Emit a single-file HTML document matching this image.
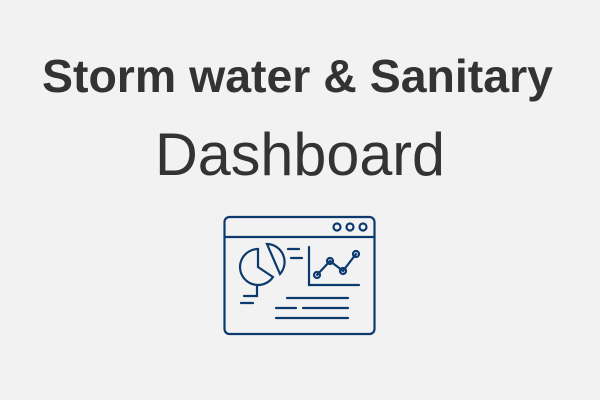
<!DOCTYPE html>
<html><head><meta charset="utf-8"><style>
html,body{margin:0;padding:0;background:#f2f2f2;}
svg{display:block;}
</style></head><body>
<svg width="600" height="400" viewBox="0 0 600 400">
<rect width="600" height="400" fill="#f2f2f2"/>
<text x="42" y="92" font-family="Liberation Sans, sans-serif" font-weight="bold" font-size="46" fill="#333" textLength="511" lengthAdjust="spacingAndGlyphs">Storm water &amp; Sanitary</text>
<text x="155" y="175" font-family="Liberation Sans, sans-serif" font-size="60" fill="#333" textLength="290" lengthAdjust="spacingAndGlyphs">Dashboard</text>
<g fill="none" stroke="#0d3a6e" stroke-width="2.2" stroke-linecap="round">
<rect x="224.5" y="217" width="150" height="117" rx="5"/>
<line x1="224.5" y1="237" x2="374.5" y2="237"/>
<circle cx="337" cy="227" r="3.5"/><circle cx="350" cy="227" r="3.5"/><circle cx="363" cy="227" r="3.5"/>
<path d="M258 249 A18 18 0 1 0 273 277 L258 267 Z"/>
<path d="M267 244 A18 18 0 0 1 280 274 Z"/>
<path d="M257 285 L257 296 L244 296"/>
<line x1="241" y1="303" x2="253" y2="303"/>
<line x1="288" y1="249" x2="299" y2="249"/>
<line x1="291" y1="258" x2="302" y2="258"/>
<path d="M309 247 L309 285 L359 285"/>
<polyline points="317,275 330,261 343,271 356,254"/>
<circle cx="317" cy="275" r="3"/><circle cx="330" cy="261" r="3"/><circle cx="343" cy="271" r="3"/><circle cx="356" cy="254" r="3"/>
<line x1="287" y1="298" x2="348" y2="298"/>
<line x1="276" y1="308" x2="296" y2="308"/>
<line x1="303" y1="308" x2="348" y2="308"/>
<line x1="276" y1="318" x2="348" y2="318"/>
</g>
</svg>
</body></html>
